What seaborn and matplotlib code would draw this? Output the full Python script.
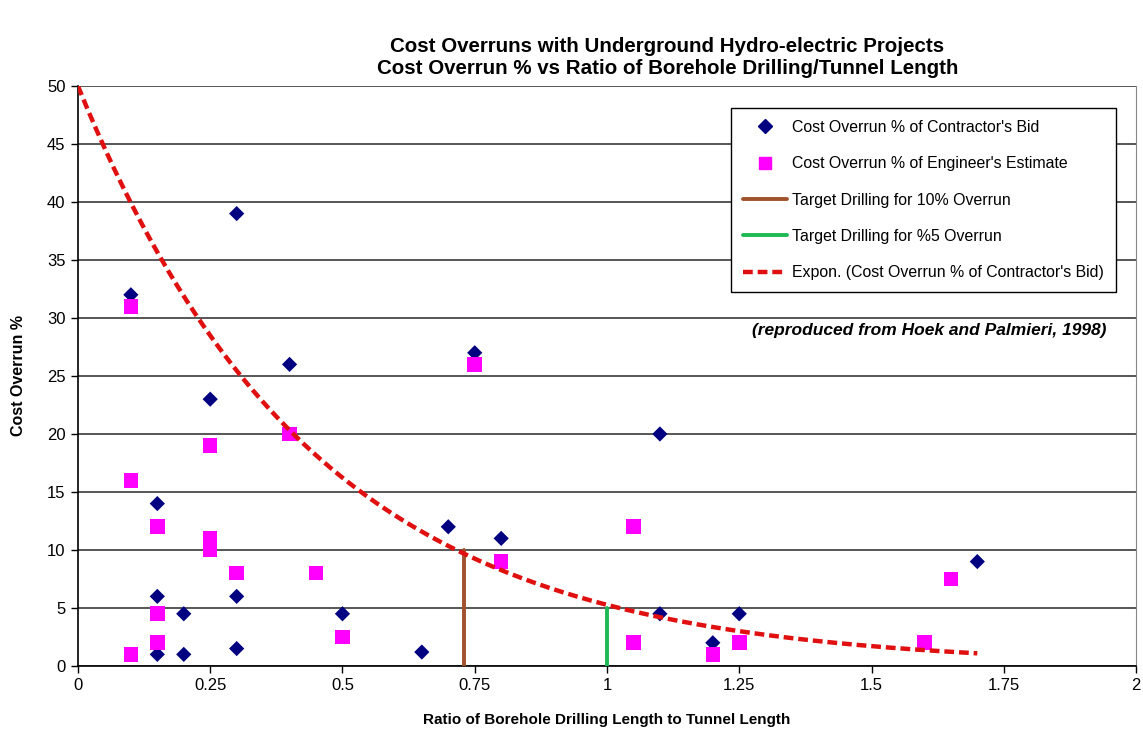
import numpy as np
import pandas as pd
import matplotlib.pyplot as plt
from matplotlib.lines import Line2D
import seaborn as sns

# Cost overrun % of contractor's bid
bid_x = [0.1, 0.3, 0.15, 0.25, 0.4, 0.15, 0.3, 0.2, 0.15, 0.2, 0.3, 0.5,
         0.65, 0.7, 0.75, 0.8, 1.1, 1.1, 1.2, 1.25, 1.7]
bid_y = [32, 39, 14, 23, 26, 6, 6, 4.5, 1, 1, 1.5, 4.5,
         1.2, 12, 27, 11, 20, 4.5, 2, 4.5, 9]

# Cost overrun % of engineer's estimate
eng_x = [0.1, 0.1, 0.1, 0.15, 0.15, 0.15, 0.25, 0.25, 0.25, 0.3, 0.4,
         0.45, 0.5, 0.75, 0.8, 1.05, 1.05, 1.2, 1.25, 1.6, 1.65]
eng_y = [31, 16, 1, 12, 4.5, 2, 19, 11, 10, 8, 20,
         8, 2.5, 26, 9, 12, 2, 1, 2, 2, 7.5]

# exponential trendline y = a * exp(-b x)
fit_a = 50.0
fit_b = 2.25
fit_xmax = 1.7

# target drilling lines
target10 = (0.73, 10)
target5 = (1.0, 5)

x_ticks = [0, 0.25, 0.5, 0.75, 1, 1.25, 1.5, 1.75, 2]
x_labels = ["0", "0.25", "0.5", "0.75", "1", "1.25", "1.5", "1.75", "2"]
y_ticks = [0, 5, 10, 15, 20, 25, 30, 35, 40, 45, 50]

sns.set_style("white")
plt.rcParams['font.family'] = ['Liberation Sans', 'DejaVu Sans']
plt.rcParams['text.color'] = 'black'
plt.rcParams['axes.labelcolor'] = 'black'

fig, ax = plt.subplots(figsize=(11.43, 7.3), dpi=100)
fig.subplots_adjust(left=0.0682, right=0.9939, top=0.8822, bottom=0.0877)

for yv in y_ticks:
    ax.axhline(yv, color="#3a3a3a", lw=1.2, zorder=0)

df_bid = pd.DataFrame({"x": bid_x, "y": bid_y})
df_eng = pd.DataFrame({"x": eng_x, "y": eng_y})
xs = np.linspace(0, fit_xmax, 200)
df_fit = pd.DataFrame({"x": xs, "y": fit_a * np.exp(-fit_b * xs)})

sns.scatterplot(data=df_bid, x="x", y="y", ax=ax, marker="D", s=60,
                color="#000080", edgecolor="none", zorder=3)
sns.scatterplot(data=df_eng, x="x", y="y", ax=ax, marker="s", s=110,
                color="#FF00FF", edgecolor="none", zorder=3)
ax.plot([target10[0], target10[0]], [0, target10[1]], color="#A0522D", lw=2.8, zorder=4)
ax.plot([target5[0], target5[0]], [0, target5[1]], color="#1DB954", lw=2.8, zorder=4)
sns.lineplot(data=df_fit, x="x", y="y", ax=ax, color="#E01010", lw=3.2,
             linestyle=(0, (2.2, 1.1)), zorder=5)

ax.set_xlim(0, 2)
ax.set_ylim(0, 50)
ax.set_xticks(x_ticks)
ax.set_xticklabels(x_labels)
ax.set_yticks(y_ticks)
ax.tick_params(axis="both", labelsize=12, length=5, width=1, direction="out",
               color="black", labelcolor="black", bottom=True, left=True, pad=4)
ax.set_xlabel("Ratio of Borehole Drilling Length to Tunnel Length",
              fontsize=11, fontweight="bold", labelpad=14)
ax.set_ylabel("")
for s in ["left", "bottom"]:
    ax.spines[s].set_color("black")
    ax.spines[s].set_linewidth(1.2)
ax.spines["right"].set_color("#888888")
ax.spines["top"].set_visible(False)

handles = [
    Line2D([], [], marker="D", color="#000080", ls="none", markersize=7),
    Line2D([], [], marker="s", color="#FF00FF", ls="none", markersize=9),
    Line2D([], [], color="#A0522D", lw=2.8),
    Line2D([], [], color="#1DB954", lw=2.8),
    Line2D([], [], color="#E01010", lw=3.2, ls=(0, (2.2, 1.1))),
]
labels = ["Cost Overrun % of Contractor's Bid",
          "Cost Overrun % of Engineer's Estimate",
          "Target Drilling for 10% Overrun",
          "Target Drilling for %5 Overrun",
          "Expon. (Cost Overrun % of Contractor's Bid)"]
leg = ax.legend(handles, labels, loc="upper right", bbox_to_anchor=(0.981, 0.962),
                borderaxespad=0, fontsize=11.4, frameon=True, fancybox=False,
                framealpha=1, edgecolor="black", labelspacing=1.35,
                handlelength=2.8, handletextpad=0.3, borderpad=0.75)
leg.get_frame().set_linewidth(1.0)

ax.text(0.972, 0.578, "(reproduced from Hoek and Palmieri, 1998)", transform=ax.transAxes,
        ha="right", va="center", fontsize=12.5, fontweight="bold", fontstyle="italic")

fig.text(0.584, 1 - 47 / 730, "Cost Overruns with Underground Hydro-electric Projects",
         ha="center", va="center", fontsize=14.8, fontweight="bold")
fig.text(0.584, 1 - 68 / 730, "Cost Overrun % vs Ratio of Borehole Drilling/Tunnel Length",
         ha="center", va="center", fontsize=14.8, fontweight="bold")
fig.text(0.016, 0.485, "Cost Overrun %", ha="center", va="center", rotation=90,
         fontsize=11.5, fontweight="bold")

fig.savefig("out.png", dpi=100)
